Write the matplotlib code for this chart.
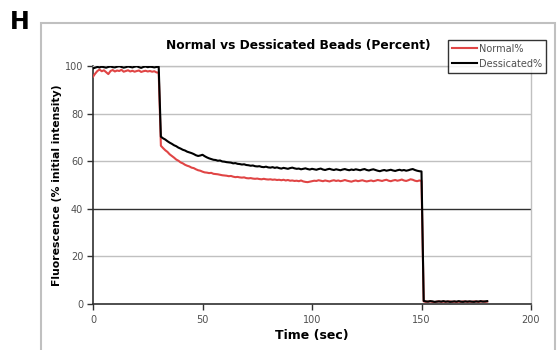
import matplotlib
matplotlib.use("Agg")
import matplotlib.pyplot as plt
import numpy as np
from matplotlib.patches import Rectangle

# one reading per second, 0 to 180 s
time_sec = np.arange(0, 181)

normal_pct = [
    95.5, 96.8, 97.9, 98.5, 97.8, 98.2, 97.4, 96.6, 97.9, 98.3,
    97.7, 98.1, 97.9, 98.4, 97.6, 97.9, 98.2, 97.7, 98.0, 97.6,
    97.9, 98.1, 97.5, 97.8, 98.0, 97.7, 97.9, 97.6, 97.8, 97.3,
    97.2,
    66.5, 65.5, 64.6, 63.9, 62.9, 62.2, 61.5, 60.7, 60.2, 59.5,
    59.1, 58.5, 58.1, 57.8, 57.3, 57.1, 56.6, 56.2, 56.0, 55.6,
    55.3, 55.2, 55.0, 55.1, 54.7, 54.6, 54.5, 54.3, 54.1, 54.0,
    53.9, 53.7, 53.8, 53.5, 53.3, 53.4, 53.2, 53.1, 53.2, 52.9,
    52.8, 52.9, 52.7, 52.6, 52.7, 52.5, 52.4, 52.6, 52.4, 52.3,
    52.4, 52.2, 52.3, 52.1, 52.2, 52.0, 52.2, 51.9, 52.1, 51.8,
    51.9, 51.7, 51.8, 51.6, 51.9, 51.5, 51.3, 51.2, 51.4, 51.6,
    51.8, 51.7, 52.0, 51.8, 51.6, 51.9, 51.7, 51.5, 51.8, 52.0,
    51.7, 51.9, 51.6, 51.8, 52.1, 51.8, 51.6, 51.4, 51.7, 51.9,
    51.6, 51.8, 52.0, 51.7, 51.5, 51.7, 51.9, 51.6, 51.8, 52.1,
    51.9, 51.7, 52.0, 52.2, 51.8, 51.6, 51.9, 52.1, 51.8, 52.0,
    52.3, 51.9, 51.7, 52.0, 52.4, 52.2, 51.8, 51.6, 51.9, 51.7,
    1.1, 0.9, 1.0, 1.1, 0.9, 0.8, 1.0, 1.1, 0.9, 1.0,
    0.9, 1.0, 1.1, 0.9, 1.0, 0.8, 1.0, 0.9, 1.1, 1.0,
    0.9, 1.0, 0.9, 1.1, 1.0, 0.9, 1.0, 1.1, 0.9, 1.0,
]

dessicated_pct = [
    99.0, 99.3, 99.6, 99.4, 99.7, 99.5, 99.3, 99.6, 99.8, 99.5,
    99.4, 99.7, 99.9, 99.6, 99.3, 99.5, 99.8, 99.6, 99.4, 99.7,
    99.9, 99.5, 99.2, 99.6, 99.8, 99.5, 99.7, 99.6, 99.4, 99.6,
    99.7,
    70.3, 69.6, 69.1, 68.4, 67.8, 67.3, 66.7, 66.3, 65.7, 65.3,
    64.8, 64.5, 64.0, 63.7, 63.4, 63.0, 62.5, 62.2, 62.4, 62.7,
    62.1, 61.6, 61.2, 60.9, 60.6, 60.5, 60.2, 60.3, 59.9, 59.8,
    59.6, 59.5, 59.4, 59.1, 59.2, 58.9, 58.8, 58.6, 58.7, 58.4,
    58.3, 58.1, 58.2, 57.9, 57.8, 57.9, 57.6, 57.5, 57.7, 57.4,
    57.3, 57.5, 57.2, 57.4, 57.1, 56.9, 57.2, 57.0, 56.8, 57.1,
    57.3, 57.0, 56.8, 56.9, 56.6, 56.8, 57.0, 56.7, 56.5, 56.8,
    56.6, 56.4, 56.7, 56.9, 56.5, 56.3, 56.6, 56.8, 56.5, 56.3,
    56.6, 56.4, 56.2, 56.5, 56.7, 56.4, 56.2, 56.5, 56.3, 56.6,
    56.4, 56.2, 56.5, 56.7, 56.3, 56.1, 56.4, 56.6, 56.3, 56.0,
    55.8, 56.1, 56.3, 56.0, 56.2, 56.4, 56.1, 55.9, 56.2, 56.4,
    56.1, 56.3, 56.0, 56.2, 56.5, 56.7, 56.3, 56.0, 55.8, 55.7,
    1.3, 1.1, 1.0, 1.2, 1.1, 0.9, 1.0, 1.1, 1.0, 1.2,
    1.0, 1.1, 0.9, 1.0, 1.1, 1.0, 1.2, 1.0, 0.9, 1.1,
    1.0, 1.1, 1.0, 0.9, 1.1, 1.0, 1.2, 1.0, 1.1, 1.2,
]

x_ticks = [0, 50, 100, 150, 200]
y_ticks = [0, 20, 40, 60, 80, 100]

grid_grey = '#c0c0c0'
label_grey = '#505050'

fig = plt.figure(figsize=(5.58, 3.5), dpi=100)
ax = fig.add_axes([93 / 558, 1 - 304 / 350, (531 - 93) / 558, (304 - 66) / 350])

# chart area border, runs off the bottom of the image
fig.patches.append(Rectangle((41 / 558, -0.2), (555 - 41) / 558, 1.2 - 23 / 350,
                             transform=fig.transFigure, fill=False,
                             edgecolor=grid_grey, linewidth=1.5))

for y in y_ticks[1:]:
    if y == 40:
        ax.axhline(y, color='#303030', linewidth=1.0, zorder=1)
    else:
        ax.axhline(y, color=grid_grey, linewidth=1.0, zorder=1)

ax.plot(time_sec, normal_pct, color='#e04545', linewidth=1.5, label='Normal%', zorder=3)
ax.plot(time_sec, dessicated_pct, color='black', linewidth=1.5, label='Dessicated%', zorder=4)

ax.set_xlim(0, 200)
ax.set_ylim(0, 100)
ax.set_xticks(x_ticks)
ax.set_yticks(y_ticks)
ax.tick_params(axis='both', direction='out', length=4, width=1, color='#303030',
               labelsize=7, labelcolor=label_grey, pad=3)
ax.tick_params(axis='x', pad=4)

for side in ['left', 'bottom']:
    ax.spines[side].set_color('#303030')
    ax.spines[side].set_linewidth(1.2)
for side in ['top', 'right']:
    ax.spines[side].set_color(grid_grey)
    ax.spines[side].set_linewidth(1.0)

ax.set_xlabel('Time (sec)', fontsize=9, fontweight='bold', labelpad=3)
ax.set_ylabel('Fluorescence (% initial intensity)', fontsize=7.8, fontweight='bold', labelpad=2)

fig.text(298 / 558, 1 - 45 / 350, 'Normal vs Dessicated Beads (Percent)',
         fontsize=8.8, fontweight='bold', ha='center', va='center')
fig.text(10 / 558, 1 - 22 / 350, 'H', fontsize=17, fontweight='bold', va='center')

leg = ax.legend(loc='upper left', bbox_to_anchor=(448 / 558, 1 - 40 / 350),
                bbox_transform=fig.transFigure, fontsize=7, frameon=True,
                fancybox=False, borderpad=0.4, handlelength=2.6, handletextpad=0.2,
                labelspacing=0.5, borderaxespad=0)
leg.get_frame().set_edgecolor('black')
leg.get_frame().set_linewidth(1.0)
for txt in leg.get_texts():
    txt.set_color(label_grey)
leg.set_zorder(10)

fig.savefig('out.png', dpi=100)
